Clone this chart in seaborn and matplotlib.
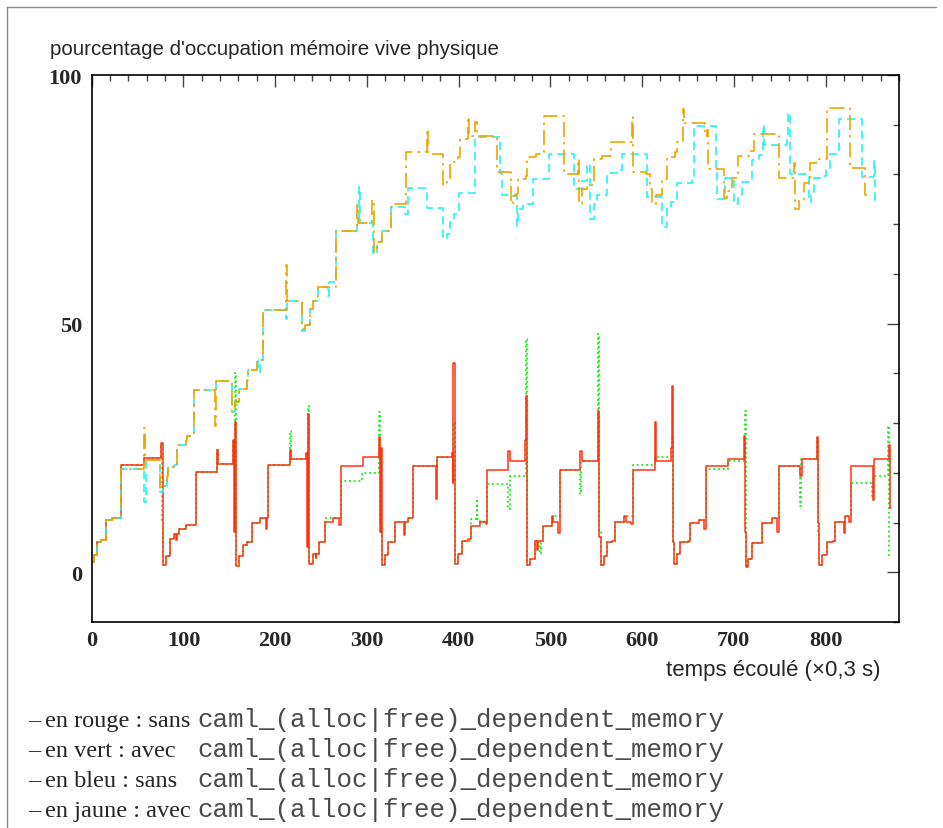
import matplotlib
matplotlib.use("Agg")
import numpy as np
import pandas as pd
import matplotlib.pyplot as plt
import seaborn as sns
from matplotlib.lines import Line2D
from matplotlib.ticker import MultipleLocator

W, H = 943, 829

# --- valeurs (breakpoints, tracé en escalier) ---
red_x = [0, 3, 6, 10, 16, 22, 32, 57, 75.5, 77.5,
         78, 81, 85.4, 90, 92, 93, 95.5, 102.8, 113.7, 136.3, 138, 154.4, 155.2, 155.8, 157,
         158, 161, 164.7, 169, 174.5, 183.5, 190, 190.8, 192.6, 216.3, 217.5, 233.7, 235, 235.8, 237.4,
         238, 241.7, 244, 245, 248.2, 254.4, 263.5, 269.5, 271.5, 296.2, 313.3, 314.5, 315.2, 316.2,
         319.8, 323.5, 330.8, 340.3, 341.3, 345.3, 350.7, 375.5, 376.2, 392.6, 393.5, 394.2, 395.5,
         399.8, 403.5, 410, 413.3, 423.4, 429.5, 431.4, 454.3, 456.2, 472.5, 473.2, 474, 475,
         478, 483.4, 485, 486, 491.8, 501.6, 503, 508.8, 510.7, 532.5, 534.5, 551.5, 552.3, 553.2, 555.1,
         558.7, 561.6, 567, 570.7, 580.5, 582.5, 587.5, 590, 613.5, 615.3, 631.8, 632.5, 633.2, 634.2,
         637.8, 641.5, 649.5, 651.7, 661.5, 667, 669.9, 693.2, 711.5, 712.2, 713.5,
         715.8, 719.7, 730.6, 741.5, 746.8, 747.5, 748.8, 772.6, 774.3, 790.8, 791.6, 792.5,
         796.1, 801.5, 808.5, 810.6, 818.8, 819.6, 821.5, 826, 828, 850.5, 851.5, 853, 869.5, 870.5, 871]
red_y = [2, 3.5, 6, 6.5, 10.5, 11, 21.5, 23, 26, 1.5,
         1.5, 3.3, 6.7, 7.7, 6.5, 7.7, 8.8, 9.5, 20.1, 24.5, 21.7, 26.5, 8, 30.2, 1.3,
         1.3, 3.3, 5.4, 6, 10, 10.9, 8.7, 10.9, 21.5, 24.5, 22.8, 24, 5, 31.9, 1.7,
         1.7, 3.7, 2.8, 3.7, 6, 10.2, 11, 9.5, 21.3, 23.1, 27.2, 8, 25, 1.5,
         3.5, 6, 10.2, 7.4, 10.2, 11, 21.3, 14.7, 23.1, 24, 18, 42, 1.7,
         3.7, 6.2, 6.6, 9.4, 10.2, 9.8, 20.6, 24.3, 22.3, 26.5, 35.5, 8, 1.5,
         2.7, 6.2, 4.5, 6.2, 9.4, 11.4, 10.2, 7.9, 20.6, 24.4, 22.3, 24.5, 32.5, 7, 1.5,
         3.2, 6, 6.3, 10.2, 11.4, 10.2, 9.8, 20.6, 30.2, 22.3, 25, 37.5, 6, 1.7,
         3.7, 6, 6.3, 10, 10.6, 8.7, 21.3, 22.7, 27.5, 8, 1,
         2.7, 5.8, 10, 10.9, 10.9, 8, 21.3, 19.4, 22.8, 27.2, 10, 1.5,
         3.5, 6, 6.3, 10.2, 10.2, 7.8, 11.4, 10.2, 21.3, 21.3, 14.5, 22.8, 25.5, 13, 13]

green_x = [0, 3, 6, 10, 16, 22, 32, 57, 75.5, 76.5, 77.5,
           78, 81, 85.4, 90, 95.5, 102.8, 113.7, 136.3, 138, 154.4, 155.8, 157,
           161, 164.7, 169, 174.5, 183.5, 192.6, 216.3, 217.5, 233.7, 236, 237.4,
           241.7, 248.2, 254.4, 263.5, 271.5, 295, 313.3, 314.8, 316.2,
           319.8, 323.5, 330.8, 345.3, 350.7, 376.2, 392.6, 394, 395.5,
           399.8, 403.5, 413.3, 419.5, 420.5, 423.4, 431.4, 454.3, 456.2, 473.2, 474.2, 475,
           478, 483.4, 488.5, 489.5, 491.8, 501.6, 510.7, 532.5, 533.5, 534.5, 552.3, 553.5, 555.1,
           558.7, 561.6, 570.7, 580.5, 590, 613.5, 632.5, 633.4, 634.2,
           637.8, 641.5, 651.7, 661.5, 669.9, 693.2, 711.8, 712.8, 713.5,
           715.8, 719.7, 730.6, 741.5, 748.8, 772.6, 773.6, 774.3, 791, 791.8, 792.5,
           796.1, 801.5, 810.6, 821.5, 828, 850.5, 851.5, 853, 868.5, 869.5, 870.5]
green_y = [2, 3.5, 6, 6.5, 10.5, 11, 21.5, 23, 25.8, 10, 1.5,
           1.5, 3.3, 6.7, 7.7, 8.8, 9.5, 20.1, 24.5, 21.7, 26.5, 40, 1.3,
           3.3, 5.4, 6, 10, 10.9, 21.5, 28.5, 22.8, 24, 33.5, 1.7,
           3.7, 6, 10.9, 11, 18.4, 19.9, 32.2, 10, 1.5,
           3.5, 6, 10.2, 11, 21.3, 23.1, 24, 30, 1.7,
           3.7, 6.2, 10.7, 14.4, 10.7, 10.2, 17.8, 12.7, 19.4, 47, 10, 1.5,
           2.7, 6.2, 3.7, 6.2, 9.4, 11.4, 20.6, 15.7, 22.3, 22.3, 48, 8, 1.5,
           3.2, 6, 10.2, 11.4, 21.6, 23.1, 27.5, 6, 1.7,
           3.7, 6, 10, 10.6, 20.8, 22.3, 32.5, 6, 1,
           2.7, 5.8, 10, 10.9, 21.3, 13.4, 22.8, 22.8, 27, 8, 1.5,
           3.5, 6, 10.2, 11.4, 18, 15.4, 19.4, 19.4, 29.5, 3, 3]

cyan_x = [0, 3, 6, 10, 16, 22, 32, 57.5, 58.8, 74.5, 78, 82.5, 83.6, 89.7, 92.7, 102.8, 103.6,
          111.6, 135.6, 152.7, 156.3, 161, 169, 170.8, 180.6, 181.6, 183, 187.2, 211.5, 212.5,
          229.5, 232, 238.1, 241.5, 247.2, 257.5, 258.5, 266.1, 289, 291.5, 292.5, 306.4, 310.8,
          316.3, 326, 341.5, 345.3, 366, 383.4, 387, 390.7, 395, 400.9, 418, 445.3, 447.1,
          463.5, 465.2, 470, 480.9, 499, 525.2, 534, 540, 543.4, 547, 550.7, 561.6, 574, 578,
          605.2, 621.6, 627, 632, 638, 654, 656.1, 680.8, 681.6, 690.5, 699.7, 704, 708.8, 716,
          719.7, 727, 732, 733, 757.5, 758.6, 760.7, 781.5, 784.5, 786.9, 796, 800, 805.1,
          814.2, 839.7, 853, 854.2, 855]
cyan_y = [2, 3.5, 6, 6.5, 10.5, 11, 20.8, 14.1, 22.5, 16.2, 17.4, 19.4, 21.1, 21.6, 25.5, 26.5, 27.5,
          36.7, 38.4, 32.3, 34.3, 36.9, 38.6, 40.6, 42.6, 40.2, 42.6, 52.8, 51, 54.5,
          48.5, 49.8, 53, 54.5, 57.3, 55.5, 58.3, 68.6, 70.3, 77.5, 70.3, 64, 66.4,
          68.7, 73.4, 72.1, 77.3, 73.2, 67, 68, 70.4, 72.1, 76.3, 87.5, 80.3, 75.8,
          69.7, 73.1, 74.1, 79.1, 84.2, 77.1, 78.7, 82.1, 71.1, 74.1, 75.8, 80.3, 80.9, 84.2,
          75.5, 69.4, 73.1, 74.5, 78.3, 79, 89.7, 80.5, 75.1, 79.3, 74.1, 75.9, 78.5, 79.1,
          83, 84, 89.9, 86, 87.5, 92.3, 80.1, 74.5, 75.9, 79.3, 79.7, 81, 84.2,
          91.2, 79.5, 82.8, 74.1, 74.1]

orange_x = [0, 3, 6, 10, 16, 22, 32, 56.5, 57.8, 74.5, 78, 82.5, 83.6, 89.7, 92.7, 102.8, 103.6,
            111.6, 134, 135.6, 152.7, 156.3, 161, 169, 170.8, 180.6, 187.2, 211.5, 212.5, 229.5,
            232, 238.1, 241.5, 247.2, 266.1, 289, 290, 306, 307.5, 310.8, 316.3, 326, 331, 342.8,
            366, 367, 383.4, 387, 390.7, 395, 399.8, 401.6, 410.7, 411.8, 418, 419.8, 442.3,
            457.3, 459.5, 462.8, 465.2, 473, 475, 484, 490, 493.2, 515, 530, 531, 534.3, 540,
            547, 547.7, 556, 566, 588.9, 590, 604, 608.8, 610.7, 615.4, 621.6, 627, 636, 638,
            644.1, 645.2, 668.8, 670.5, 671.4, 688.8, 693, 697.9, 704.1, 716, 722.2, 748.8,
            765.1, 767, 771, 776, 783.3, 793, 801.5, 826.2, 843, 845]
orange_y = [2, 3.5, 6, 6.5, 10.5, 11, 20.8, 29, 22.5, 17, 17.4, 19.4, 21.1, 21.6, 25.5, 26.5, 27.5,
            36.7, 29.5, 38.4, 32.3, 34.3, 36.9, 38.6, 40.6, 42.6, 52.8, 61.7, 54.5, 49,
            49.8, 53, 54.5, 57.3, 68.6, 73.8, 70.3, 74.8, 64.4, 66.4, 68.7, 73.4, 74.1, 84.5,
            89.2, 84.2, 77.8, 79, 82.2, 82.6, 83.5, 87.2, 91.5, 87.8, 90.5, 87.8, 80.5,
            74.1, 75.6, 76.1, 79.1, 79.6, 83.5, 84.2, 84.5, 91.8, 80.1, 83.2, 74.1, 77.1, 77.8,
            79.1, 83.1, 83.8, 86.6, 91.5, 80.5, 80.1, 77.1, 74.1, 75.9, 79.1, 83.5, 84.5, 86.5,
            93.2, 90.3, 87.8, 89, 81, 75.3, 76.6, 79.3, 83.8, 84.8, 88.2, 79.3,
            82.3, 73.1, 74.9, 78.3, 82.3, 83.1, 93.4, 81.3, 75.8, 75.8]

legend_colors = ["rouge", "vert", "bleu", "jaune"]
legend_modes = ["sans", "avec", "sans", "avec"]
func_name = "caml_(alloc|free)_dependent_memory"

sns.set_style("white")
plt.rcParams['font.family'] = ['Liberation Sans', 'DejaVu Sans']

fig = plt.figure(figsize=(W / 100, H / 100), dpi=100)
ax = fig.add_axes([91.7 / W, 1 - 623 / H, (899 - 91.7) / W, (623 - 76) / H])

styles = [
    (green_x, green_y, '#11f011', (0, (1, 1.6)), 1.3),
    (red_x, red_y, '#ff3311', '-', 1.1),
    (cyan_x, cyan_y, '#22f4f4', (0, (5, 3)), 1.2),
    (orange_x, orange_y, '#eea400', (0, (9, 3, 1.5, 3)), 1.2),
]
for xs, ys, color, ls, lw in styles:
    df = pd.DataFrame({'t': xs, 'v': ys})
    sns.lineplot(data=df, x='t', y='v', ax=ax, estimator=None, sort=False,
                 color=color, linestyle=ls, linewidth=lw, drawstyle='steps-post')

ax.set_xlim(0, 880)
ax.set_ylim(-10, 100)
ax.set_xlabel('')
ax.set_ylabel('')
ax.xaxis.set_major_locator(MultipleLocator(100))
ax.xaxis.set_minor_locator(MultipleLocator(20))
ax.yaxis.set_major_locator(MultipleLocator(50))
ax.yaxis.set_minor_locator(MultipleLocator(10))
ax.tick_params(which='both', direction='in', top=True, right=True, color='#444444')
ax.tick_params(which='major', length=8.5, width=1)
ax.tick_params(which='minor', length=4, width=1)
ax.tick_params(axis='y', pad=7)
ax.tick_params(axis='x', pad=6)
for lab in ax.get_xticklabels() + ax.get_yticklabels():
    lab.set_family('Liberation Serif')
    lab.set_fontweight('bold')
    lab.set_fontsize(16)
for sp in ax.spines.values():
    sp.set_color('black')
    sp.set_linewidth(1.2)

# cadre de la page
fig.add_artist(Line2D([7 / W, 7 / W], [0, 1 - 8 / H], transform=fig.transFigure, color='#888888', lw=1))
fig.add_artist(Line2D([7 / W, 936 / W], [1 - 8 / H, 1 - 8 / H], transform=fig.transFigure, color='#888888', lw=1))

fig.text(50 / W, 1 - 55 / H, "pourcentage d'occupation mémoire vive physique",
         fontsize=14.8, va='baseline', ha='left')
fig.text(880 / W, 1 - 671 / H, "temps écoulé (×0,3 s)", fontsize=16, va='center', ha='right')

for i, (c, m) in enumerate(zip(legend_colors, legend_modes)):
    yb = 1 - (727 + 30 * i) / H
    fig.text(28 / W, yb, "–", family='Liberation Serif', fontsize=17.5, va='baseline')
    fig.text(45 / W, yb, f"en {c} : {m}", family='Liberation Serif', fontsize=17.5, va='baseline')
    fig.text(197 / W, yb, func_name, family='Liberation Mono', fontsize=18.6, va='baseline',
             color='#4a4a4a')

fig.savefig('out.png', dpi=100)
